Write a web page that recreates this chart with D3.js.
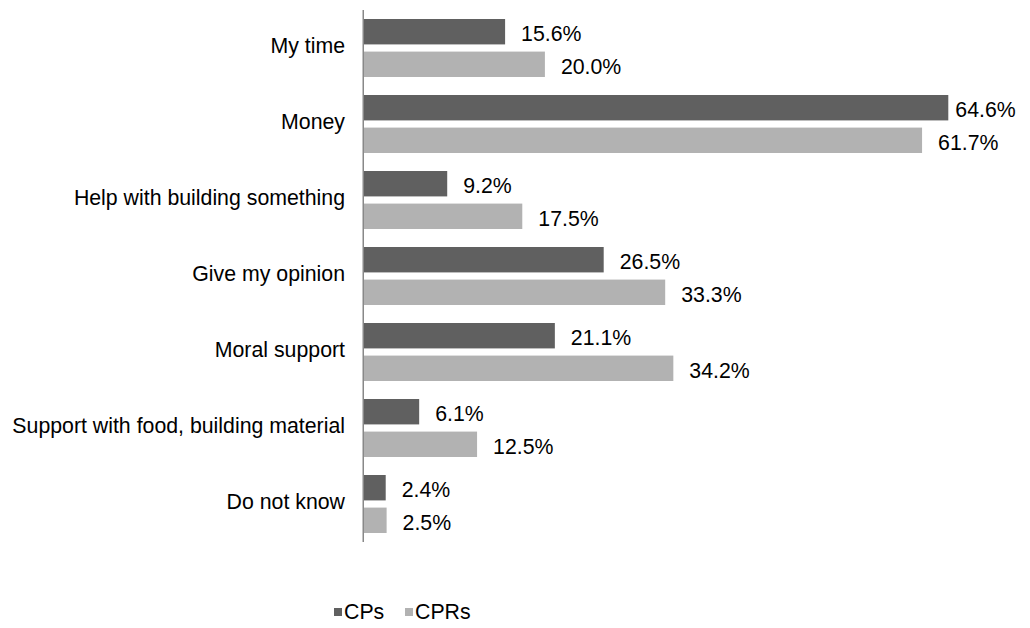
<!DOCTYPE html>
<html><head><meta charset="utf-8">
<script src="https://cdn.jsdelivr.net/npm/d3@7"></script>
<style>body{margin:0;background:#fff}svg{display:block;font-family:"Liberation Sans",Arial,sans-serif}</style>
</head><body>
<svg id="c" width="1030" height="628"></svg>
<script>
const categories = ["My time","Money","Help with building something","Give my opinion","Moral support","Support with food, building material","Do not know"];
const seriesNames = ["CPs","CPRs"];
const cps  = [15.6,64.6,9.2,26.5,21.1,6.1,2.4];
const cprs = [20.0,61.7,17.5,33.3,34.2,12.5,2.5];
const colors = ["#606060","#b2b2b2"];

(function(){
const svg = d3.select("#c");
const FS = 21.3;
const x0 = 364, plotTop = 10, plotBottom = 542;
const x = d3.scaleLinear().domain([0,64.6]).range([x0, 948.3]);
const y = d3.scaleBand().domain(categories).range([plotTop,plotBottom]).paddingInner(0).paddingOuter(0);
const sub = d3.scaleBand().domain(seriesNames).range([9, 67]).paddingInner(0.22);

const data = categories.map((c,i)=>({c, vals:[cps[i],cprs[i]]}));
const g = svg.append("g");
data.forEach(d=>{
  d.vals.forEach((v,j)=>{
    const yy = y(d.c)+sub(seriesNames[j]);
    g.append("rect").attr("x",x(0)).attr("y",yy).attr("width",x(v)-x(0)).attr("height",sub.bandwidth())
      .attr("fill",colors[j]);
    const t = g.append("text").attr("y",yy+sub.bandwidth()/2).attr("dy","0.44em")
      .attr("font-size",FS).attr("fill","#000").text(v.toFixed(1)+"%");
    let tx = x(v)+16;
    const w = t.node().getComputedTextLength();
    if (tx + w > 1020) tx = x(v)+7;
    t.attr("x",tx);
  });
  g.append("text").attr("x",345).attr("y",y(d.c)+y.bandwidth()/2).attr("dy","0.25em")
    .attr("text-anchor","end").attr("font-size",FS).attr("fill","#000").text(d.c);
});
svg.append("line").attr("x1",x0-0.75).attr("x2",x0-0.75).attr("y1",plotTop).attr("y2",plotBottom)
  .attr("stroke","#888").attr("stroke-width",1.5);

const leg = svg.append("g");
const legX = [334, 405];
seriesNames.forEach((s,j)=>{
  leg.append("rect").attr("x",legX[j]).attr("y",608).attr("width",8).attr("height",8).attr("fill",colors[j]);
  leg.append("text").attr("x",legX[j]+10).attr("y",619).attr("font-size",FS).attr("fill","#000").text(s);
});
})();
</script>
</body></html>
